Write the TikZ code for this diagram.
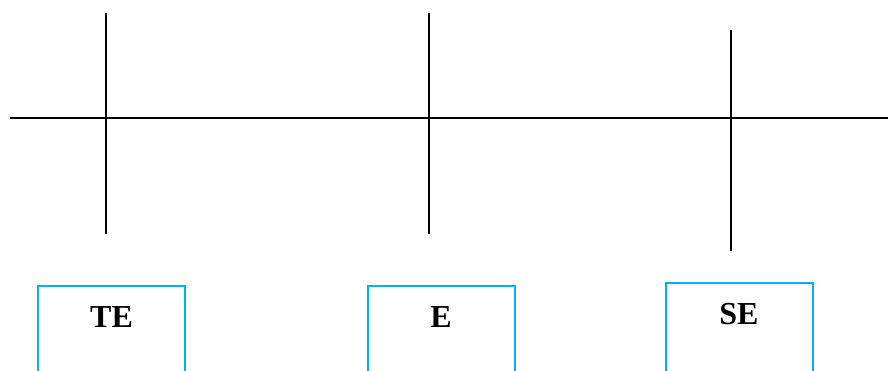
\documentclass[tikz,border=0pt]{standalone}
\usepackage{fontspec}
\setmainfont{Liberation Serif}
\begin{document}
\begin{tikzpicture}[
    x=1pt, y=-1pt,
    axis/.style={draw=black, line width=1.5pt},
    stagebox/.style={rectangle, draw=stageblue, line width=2pt, minimum width=147pt, inner sep=0pt},
    stagelabel/.style={font=\fontsize{32}{38}\selectfont\bfseries, inner sep=0pt}
]
\definecolor{stageblue}{RGB}{0,176,240}
\useasboundingbox (0,0) rectangle (888,370);
\clip (0,0) rectangle (888,370);
% Horizontal axis
\coordinate (axisL) at (10,118);
\coordinate (axisR) at (888,118);
\draw[axis] (axisL) -- (axisR);
% Vertical ticks
\foreach \name/\x/\top/\bot in {te/106/13/234, e/429/13/234, se/731/30/251} {
    \coordinate (\name top) at (\x,\top);
    \coordinate (\name bot) at (\x,\bot);
    \draw[axis] (\name top) -- (\name bot);
}
% Boxes (open at the lower edge of the picture)
\node[stagebox, minimum height=168pt] (boxTE) at (111.5,370) {};
\node[stagebox, minimum height=168pt] (boxE) at (441,370) {};
\node[stagebox, minimum height=174pt] (boxSE) at (739,370) {};
% Labels
\node[stagelabel] (TE) at (111.5,316.7) {TE};
\node[stagelabel] (E) at (441,316.7) {E};
\node[stagelabel] (SE) at (739,314) {SE};
\end{tikzpicture}
\end{document}
